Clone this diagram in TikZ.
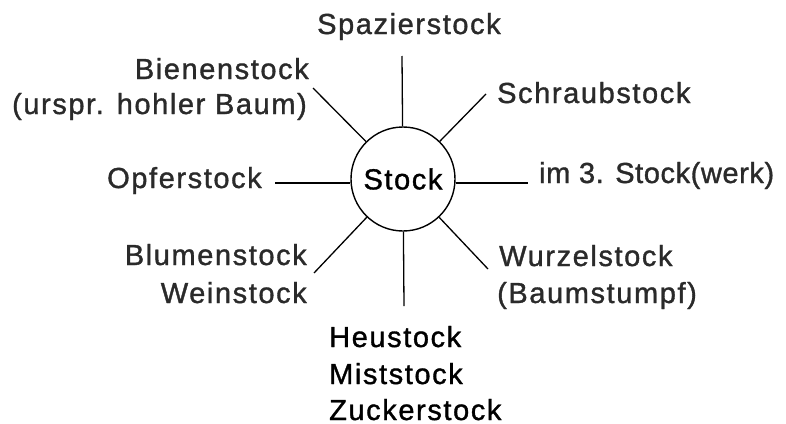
\documentclass[tikz,border=0pt]{standalone}
\usepackage{fontspec}
\setmainfont[LetterSpace=5.5,FakeBold=1.2]{Liberation Sans}
\definecolor{ink}{HTML}{2A2A2A}
\begin{document}
\begin{tikzpicture}[x=1pt,y=-1pt,
  lbl/.style={inner sep=0pt,text=ink,font=\fontsize{29}{34}\selectfont},
  spoke/.style={line width=1.3pt,black}]
\useasboundingbox (0,0) rectangle (786,423);
\node[circle,draw,line width=1.4pt,minimum size=104pt,inner sep=0pt,
      font=\fontsize{29}{34}\selectfont,text=black] (stock) at (403,179) {Stock};
% free ends
\coordinate (eT) at (402,56);
\coordinate (eUR) at (486,94);
\coordinate (eUL) at (313,88);
\coordinate (eL) at (275,183);
\coordinate (eR) at (528,183);
\coordinate (eLL) at (314,273);
\coordinate (eLR) at (488,269);
\coordinate (eB) at (404,306);
\draw[spoke] (stock) -- (eT);
\draw[spoke] (stock) -- (eUR);
\draw[spoke] (stock) -- (eUL);
\draw[spoke] (stock.west |- eL) -- (eL);
\draw[spoke] (stock.east |- eR) -- (eR);
\draw[spoke] (stock) -- (eLL);
\draw[spoke] (stock) -- (eLR);
\draw[spoke] (stock) -- (eB);
% labels
\node[lbl,anchor=base west] (spaz) at (317,34) {Spazierstock};
\node[lbl,anchor=base east] (bien) at (309,79) {Bienenstock};
\node[lbl,anchor=base east] (bien2) at (307,114) {(urspr. hohler Baum)};
\node[lbl,anchor=base west] (schr) at (497,103) {Schraubstock};
\node[lbl,anchor=base west] (opf) at (107,188) {Opferstock};
\node[lbl,anchor=base west,font=\fontsize{29}{34}\selectfont\addfontfeature{LetterSpace=2}] (werk) at (539,183) {im 3. Stock(werk)};
\node[lbl,anchor=base east] (blum) at (307,265) {Blumenstock};
\node[lbl,anchor=base east] (wein) at (307,303) {Weinstock};
\node[lbl,anchor=base west] (wurz) at (499,266) {Wurzelstock};
\node[lbl,anchor=base west] (baum) at (497,303) {(Baumstumpf)};
\node[lbl,anchor=base west,text=black] (heu) at (329,347) {Heustock};
\node[lbl,anchor=base west,text=black] (mist) at (329,384) {Miststock};
\node[lbl,anchor=base west,text=black] (zuck) at (329,420) {Zuckerstock};
\end{tikzpicture}
\end{document}
